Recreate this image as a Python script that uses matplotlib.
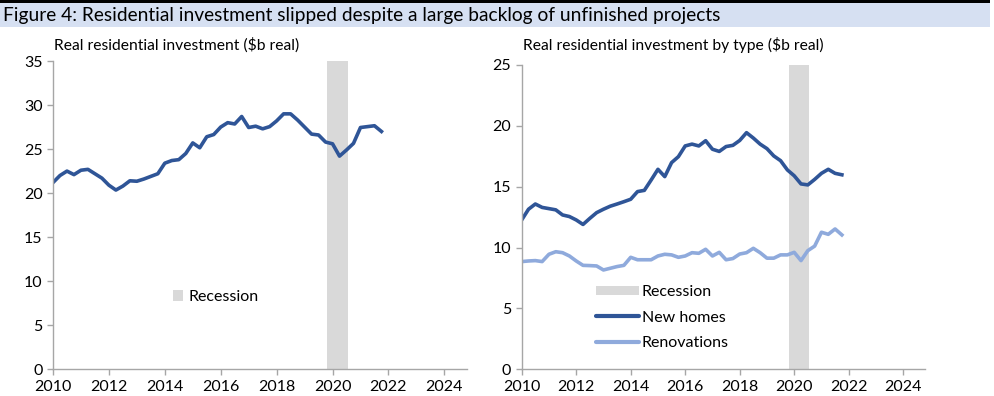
import numpy as np
import matplotlib
matplotlib.use("Agg")
from matplotlib import pyplot as plt
from matplotlib.patches import Patch, Rectangle
from matplotlib.lines import Line2D

plt.rcParams['font.family'] = ['Lato', 'DejaVu Sans']

# --- data (quarterly, 2010Q1 .. 2021Q4) ---
quarters = np.arange(2010.0, 2022.0, 0.25)

total = [21.2, 22.0, 22.5, 22.1, 22.6, 22.7, 22.2, 21.7,
         20.9, 20.35, 20.8, 21.4, 21.35, 21.6, 21.9, 22.2,
         23.4, 23.7, 23.8, 24.5, 25.7, 25.15, 26.4, 26.65,
         27.5, 28.0, 27.85, 28.7, 27.45, 27.6, 27.3, 27.55,
         28.2, 29.0, 29.0, 28.3, 27.5, 26.7, 26.6, 25.8,
         25.6, 24.2, 24.9, 25.65, 27.45, 27.55, 27.65, 27.0]

new_homes = [12.27, 13.15, 13.58, 13.3, 13.2, 13.1, 12.68, 12.55,
             12.27, 11.9, 12.4, 12.87, 13.15, 13.4, 13.58, 13.77,
             13.97, 14.6, 14.7, 15.55, 16.43, 15.83, 16.98, 17.47,
             18.35, 18.5, 18.35, 18.78, 18.08, 17.9, 18.3, 18.4,
             18.8, 19.44, 19.0, 18.5, 18.13, 17.53, 17.14, 16.38,
             15.9, 15.23, 15.15, 15.6, 16.1, 16.43, 16.1, 15.98]

renovations = [8.85, 8.9, 8.93, 8.85, 9.45, 9.66, 9.58, 9.31,
               8.9, 8.54, 8.52, 8.49, 8.16, 8.3, 8.44, 8.54,
               9.2, 9.0, 9.0, 9.0, 9.31, 9.45, 9.4, 9.2,
               9.31, 9.58, 9.53, 9.86, 9.31, 9.61, 9.0, 9.1,
               9.47, 9.58, 9.94, 9.58, 9.13, 9.13, 9.4, 9.4,
               9.61, 8.93, 9.75, 10.12, 11.26, 11.09, 11.53, 11.04]

recession = [2019.8, 2020.55]
year_ticks = [2010, 2012, 2014, 2016, 2018, 2020, 2022, 2024]

dark_blue = '#2F5597'
light_blue = '#8FAADC'
grey = '#D9D9D9'
axis_grey = '#A6A6A6'
fs = 11.5

fig = plt.figure(figsize=(9.94, 3.96), dpi=100)
renderer = fig.canvas.get_renderer()


def fit_text(x, y, s, width_px, size):
    # put text and scale its size so it spans width_px pixels
    t = fig.text(x / 994, 1 - y / 396, s, fontsize=size, va='center', ha='left')
    w = t.get_window_extent(renderer).width
    t.set_fontsize(size * width_px / w)
    return t


# title bar
fig.patches.append(Rectangle((0, 1 - 3 / 396), 990 / 994, 3 / 396, transform=fig.transFigure,
                             facecolor='black', edgecolor='none'))
fig.patches.append(Rectangle((0, 1 - 27 / 396), 990 / 994, 24 / 396, transform=fig.transFigure,
                             facecolor='#D6E0F2', edgecolor='none'))
fit_text(3, 16, 'Figure 4: Residential investment slipped despite a large backlog of unfinished projects', 722, 14)


def style_axes(ax, ymax, ystep):
    ax.set_xlim(2010, 2024.8)
    ax.set_ylim(0, ymax)
    ax.set_xticks(year_ticks)
    ax.set_yticks(np.arange(0, ymax + 0.1, ystep))
    for s in ['top', 'right']:
        ax.spines[s].set_visible(False)
    for s in ['left', 'bottom']:
        ax.spines[s].set_color(axis_grey)
        ax.spines[s].set_linewidth(1)
    ax.tick_params(axis='both', colors=axis_grey, labelcolor='black', labelsize=fs,
                   length=4, width=1, direction='out')
    ax.set_facecolor('none')


# --- left chart ---
ax1 = fig.add_axes([53 / 994, 1 - 369.3 / 396, (466.7 - 53) / 994, (369.3 - 61) / 396])
ax1.axvspan(recession[0], recession[1], color=grey, lw=0)
ax1.plot(quarters, total, color=dark_blue, lw=2.6, solid_joinstyle='round')
style_axes(ax1, 35, 5)
fit_text(54, 45, 'Real residential investment ($b real)', 244, 12)
ax1.legend(handles=[Patch(facecolor=grey, edgecolor='none', label='Recession')],
           loc='center left', bbox_to_anchor=(0.27, 0.235), frameon=False, fontsize=fs,
           handlelength=0.65, handleheight=0.65, handletextpad=0.35, borderpad=0)

# --- right chart ---
ax2 = fig.add_axes([521.7 / 994, 1 - 369.3 / 396, (925 - 521.7) / 994, (369.3 - 65) / 396])
ax2.axvspan(recession[0], recession[1], color=grey, lw=0)
ax2.plot(quarters, new_homes, color=dark_blue, lw=2.6, solid_joinstyle='round')
ax2.plot(quarters, renovations, color=light_blue, lw=2.6, solid_joinstyle='round')
style_axes(ax2, 25, 5)
fit_text(523, 45, 'Real residential investment by type ($b real)', 299, 12)
handles = [Patch(facecolor=grey, edgecolor='none', label='Recession'),
           Line2D([], [], color=dark_blue, lw=3, solid_capstyle='round', label='New homes'),
           Line2D([], [], color=light_blue, lw=3, solid_capstyle='round', label='Renovations')]
ax2.legend(handles=handles, loc='upper left', bbox_to_anchor=(0.185, 0.277), frameon=False,
           fontsize=fs, handlelength=2.7, handleheight=0.55, handletextpad=0.15, labelspacing=0.72,
           borderpad=0, borderaxespad=0)

fig.savefig('out.png', dpi=100)
